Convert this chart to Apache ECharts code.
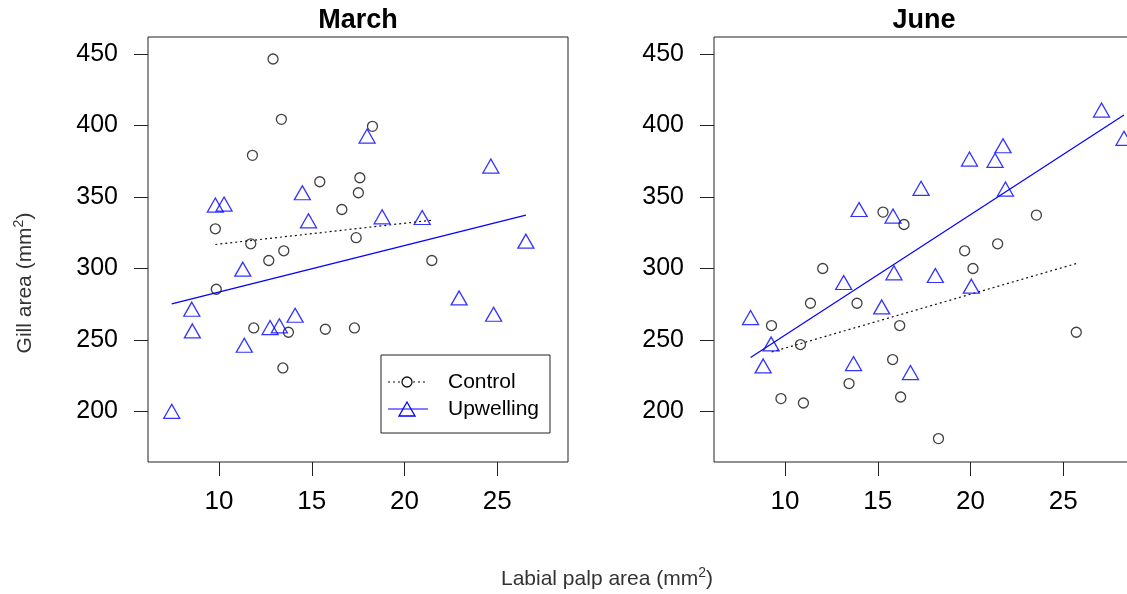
<!DOCTYPE html>
<html>
<head>
<meta charset="utf-8">
<script src="https://cdn.jsdelivr.net/npm/echarts@6/dist/echarts.min.js"></script>
<style>
html,body{margin:0;padding:0;background:#fff;overflow:hidden;width:1127px;height:594px;}
#chart{width:1140px;height:594px;}
</style>
</head>
<body>
<div id="chart"></div>
<script>
// ---- data ----
const panelTitles = ['March', 'June'];
const xTicks = [10, 15, 20, 25];
const yTicks = [200, 250, 300, 350, 400, 450];
const seriesNames = ['Control', 'Upwelling'];

const marchControlX = [12.91,13.36,18.27,11.80,15.43,17.59,17.51,16.62,9.80,17.39,11.71,12.68,13.49,21.47,9.85,11.87,13.74,15.73,17.30,13.44];
const marchControlY = [446.5,404.3,399.4,379.1,360.6,363.4,352.9,341.2,327.7,321.5,317.2,305.5,312.3,305.5,285.4,258.3,255.3,257.4,258.3,230.3];
const marchUpX = [9.80,10.27,17.98,14.49,24.65,14.82,18.79,20.95,26.54,11.28,8.53,8.56,22.94,24.80,14.10,12.75,13.25,11.36,7.45];
const marchUpY = [344.3,345.0,392.6,352.9,371.6,333.3,336.1,335.6,319.0,299.4,271.4,256.2,279.3,267.9,267.2,258.6,259.8,246.2,200.0];

const juneControlX = [15.28,16.41,23.55,21.46,19.68,20.13,12.03,11.37,13.88,9.27,16.18,10.83,25.70,15.80,13.45,9.78,10.99,16.23,18.27];
const juneControlY = [339.4,330.7,337.3,317.2,312.3,299.9,299.9,275.6,275.6,260.0,260.0,246.7,255.3,236.2,219.4,208.9,205.8,210.0,180.9];
const juneUpX = [27.06,28.27,21.75,19.94,21.32,17.33,21.88,13.99,15.82,15.87,18.10,20.04,13.16,15.21,8.14,9.25,8.82,13.69,16.76];
const juneUpY = [410.8,391.0,385.8,376.5,375.6,356.0,355.5,341.2,336.6,296.9,295.0,287.5,290.1,273.0,265.6,247.1,231.7,233.4,227.1];

// fitted line end points
const marchControlFit = [[9.80,316.7],[21.47,333.7]];
const marchUpFit = [[7.45,275.2],[26.54,337.3]];
const juneControlFit = [[9.28,241.5],[25.70,303.4]];
const juneUpFit = [[8.14,237.6],[28.27,407.3]];

// ---- chart ----
const FONT = '"Liberation Sans", Arial, Helvetica, sans-serif';
const xRange = [6.17, 28.81];
const yRange = [164.5, 461.9];
const zip = (xs, ys) => xs.map((x, i) => [x, ys[i]]);

const grids = [
  {left: 148, top: 37, width: 420, height: 425},
  {left: 714, top: 37, width: 420, height: 425}
];

function xAxis(i) {
  return {
    type: 'value', gridIndex: i, min: xRange[0], max: xRange[1],
    axisLine: {show: false},
    splitLine: {show: false},
    axisTick: {show: true, inside: false, length: 14, customValues: xTicks, lineStyle: {color: '#222', width: 1}},
    axisLabel: {show: true, customValues: xTicks, fontSize: 26, color: '#000', fontFamily: FONT, margin: 27}
  };
}
function yAxis(i) {
  return {
    type: 'value', gridIndex: i, min: yRange[0], max: yRange[1],
    axisLine: {show: false},
    splitLine: {show: false},
    axisTick: {show: true, inside: false, length: 14, customValues: yTicks, lineStyle: {color: '#222', width: 1}},
    axisLabel: {show: true, customValues: yTicks, fontSize: 25, color: '#000', fontFamily: FONT, margin: 30}
  };
}

const circleStyle = {color: 'rgba(0,0,0,0)', borderColor: '#111', borderWidth: 1.3};
const triStyle = {color: 'rgba(0,0,0,0)', borderColor: '#0000ff', borderWidth: 1.3};

function panelSeries(i, cx, cy, ux, uy, cFit, uFit) {
  return [
    {type: 'scatter', name: seriesNames[0], xAxisIndex: i, yAxisIndex: i, data: zip(cx, cy),
     symbol: 'circle', symbolSize: 10, itemStyle: circleStyle, silent: true, z: 3},
    {type: 'scatter', name: seriesNames[1], xAxisIndex: i, yAxisIndex: i, data: zip(ux, uy),
     symbol: 'triangle', symbolSize: [16, 14], itemStyle: triStyle, silent: true, z: 3},
    {type: 'line', xAxisIndex: i, yAxisIndex: i, data: cFit, showSymbol: false, symbol: 'none',
     lineStyle: {color: '#111', width: 1.2, type: [2, 3]}, silent: true, z: 2},
    {type: 'line', xAxisIndex: i, yAxisIndex: i, data: uFit, showSymbol: false, symbol: 'none',
     lineStyle: {color: '#0000ff', width: 1.2}, silent: true, z: 2}
  ];
}

const supRich = {
  n: {fontSize: 21, fontFamily: FONT, fill: '#333'},
  s: {fontSize: 14, fontFamily: FONT, fill: '#333', padding: [0, 0, 12, 0]}
};

const legendX = 381, legendY = 355;
const graphics = [
  // panel titles
  {type: 'text', x: 358, y: 21, style: {text: panelTitles[0], font: 'bold 27px ' + FONT, fill: '#000', align: 'center', verticalAlign: 'middle'}},
  {type: 'text', x: 924, y: 21, style: {text: panelTitles[1], font: 'bold 27px ' + FONT, fill: '#000', align: 'center', verticalAlign: 'middle'}},
  // axis titles
  {type: 'text', x: 25, y: 283, rotation: Math.PI / 2,
   style: {text: '{n|Gill area (mm}{s|2}{n|)}', rich: supRich, align: 'center', verticalAlign: 'middle'}},
  {type: 'text', x: 607, y: 579,
   style: {text: '{n|Labial palp area (mm}{s|2}{n|)}', rich: supRich, align: 'center', verticalAlign: 'middle'}},
  // legend
  {type: 'rect', shape: {x: legendX, y: legendY, width: 169, height: 78}, style: {fill: '#fff', stroke: '#222', lineWidth: 1}, z: 10},
  {type: 'line', shape: {x1: 388, y1: 382, x2: 428, y2: 382}, style: {stroke: '#111', lineWidth: 1.2, lineDash: [2, 3]}, z: 11},
  {type: 'circle', shape: {cx: 407, cy: 382, r: 5}, style: {fill: '#fff', stroke: '#111', lineWidth: 1.3}, z: 12},
  {type: 'text', x: 448, y: 382, style: {text: seriesNames[0], font: '21px ' + FONT, fill: '#000', verticalAlign: 'middle'}, z: 12},
  {type: 'line', shape: {x1: 388, y1: 409, x2: 428, y2: 409}, style: {stroke: '#0000ff', lineWidth: 1.2}, z: 11},
  {type: 'polygon', shape: {points: [[407, 402], [415, 416], [399, 416]]}, style: {fill: 'rgba(0,0,0,0)', stroke: '#0000ff', lineWidth: 1.3}, z: 12},
  {type: 'text', x: 448, y: 409, style: {text: seriesNames[1], font: '21px ' + FONT, fill: '#000', verticalAlign: 'middle'}, z: 12}
];

const option = {
  backgroundColor: '#fff',
  animation: false,
  grid: grids.map(g => Object.assign({show: true, borderColor: '#222', borderWidth: 1, backgroundColor: 'rgba(0,0,0,0)', containLabel: false}, g)),
  xAxis: [xAxis(0), xAxis(1)],
  yAxis: [yAxis(0), yAxis(1)],
  series: [].concat(
    panelSeries(0, marchControlX, marchControlY, marchUpX, marchUpY, marchControlFit, marchUpFit),
    panelSeries(1, juneControlX, juneControlY, juneUpX, juneUpY, juneControlFit, juneUpFit)
  ),
  graphic: graphics
};

const chart = echarts.init(document.getElementById('chart'), null, {renderer: 'canvas'});
chart.setOption(option);
</script>
</body>
</html>
